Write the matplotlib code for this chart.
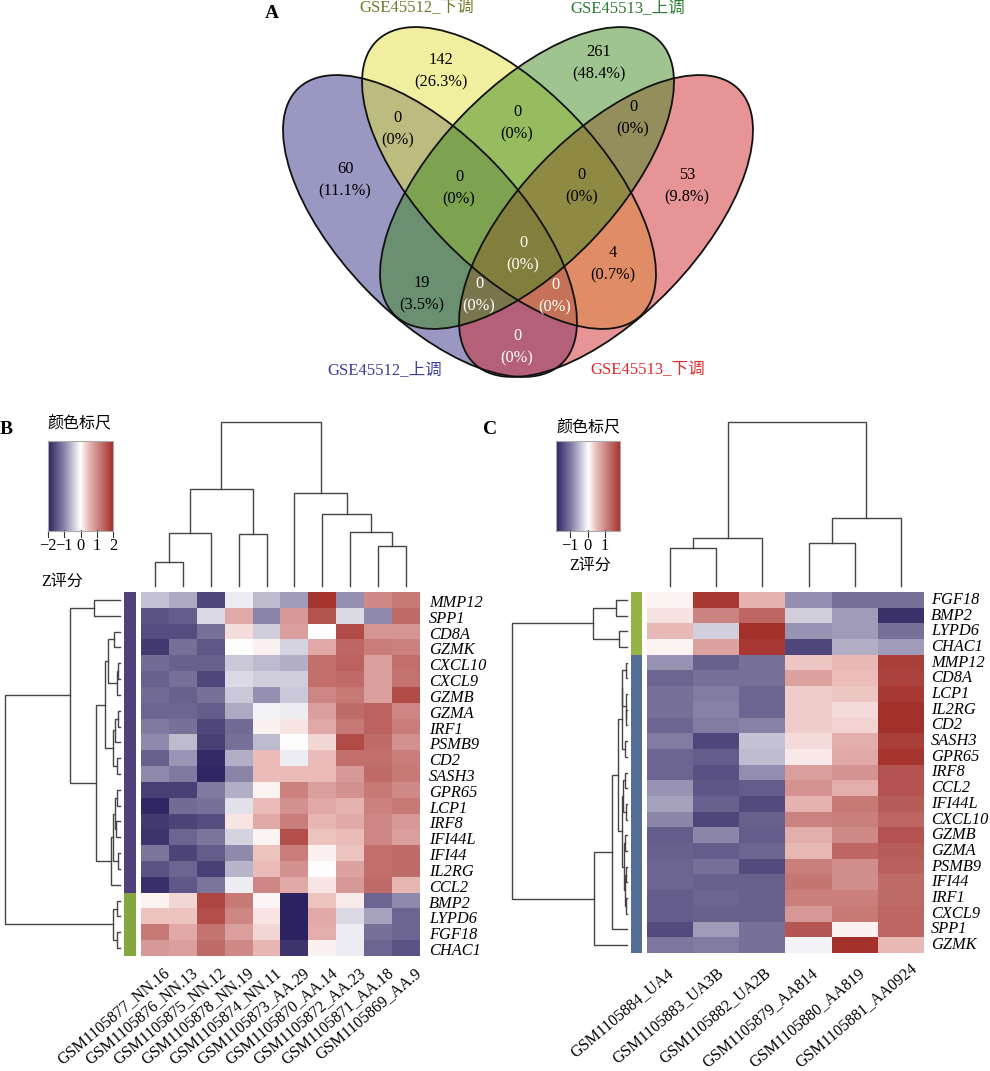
#!/usr/bin/env python3
"""Venn diagram and two clustered heatmaps of the GSE45512 / GSE45513 genes."""

import numpy as np
import matplotlib
matplotlib.use("Agg")
import matplotlib.pyplot as plt
from matplotlib.colors import LinearSegmentedColormap
from matplotlib.patches import Ellipse

plt.rcParams['font.family'] = ['Liberation Serif', 'Noto Sans CJK SC']
plt.rcParams['axes.unicode_minus'] = True

# venn data
venn_titles = ["GSE45512_下调", "GSE45513_上调", "GSE45512_上调", "GSE45513_下调"]
venn_counts = [142, 261, 0, 0, 0, 60, 53, 0, 0, 0, 19, 4, 0, 0, 0]
venn_shares = ["26.3", "48.4", "0", "0", "0", "11.1", "9.8", "0", "0", "0",
               "3.5", "0.7", "0", "0", "0"]

# heatmap B
b_samples = ["GSM1105877_NN.16", "GSM1105876_NN.13", "GSM1105875_NN.12",
             "GSM1105878_NN.19", "GSM1105874_NN.11", "GSM1105873_AA.29",
             "GSM1105870_AA.14", "GSM1105872_AA.23", "GSM1105871_AA.18",
             "GSM1105869_AA.9"]
b_genes = ["MMP12", "SPP1", "CD8A", "GZMK", "CXCL10", "CXCL9", "GZMB", "GZMA",
           "IRF1", "PSMB9", "CD2", "SASH3", "GPR65", "LCP1", "IRF8", "IFI44L",
           "IFI44", "IL2RG", "CCL2", "BMP2", "LYPD6", "FGF18", "CHAC1"]
b_values = [
    [-0.5, -0.7, -1.6, -0.15, -0.55, -0.8, 1.95, -0.9, 1.0, 1.2],
    [-1.5, -1.4, -0.3, 0.7, -1.0, 0.85, 1.6, -0.3, -0.95, 1.35],
    [-1.55, -1.55, -1.2, 0.25, -0.4, 0.8, 0.0, 1.7, 0.9, 0.9],
    [-1.75, -1.2, -1.45, 0.0, 0.1, -0.35, 0.7, 1.4, 1.15, 1.1],
    [-1.25, -1.35, -1.35, -0.45, -0.55, -0.65, 1.3, 1.45, 0.8, 1.3],
    [-1.35, -1.2, -1.6, -0.3, -0.4, -0.4, 1.3, 1.35, 0.8, 1.25],
    [-1.25, -1.35, -1.2, -0.45, -0.9, -0.45, 1.05, 1.2, 0.8, 1.7],
    [-1.3, -1.3, -1.4, -0.7, -0.1, -0.15, 0.8, 1.35, 1.45, 1.05],
    [-1.1, -1.2, -1.6, -1.25, 0.1, 0.2, 0.7, 1.2, 1.45, 1.15],
    [-0.95, -0.55, -1.7, -1.2, -0.55, 0.0, 0.3, 1.7, 1.35, 0.95],
    [-1.35, -0.85, -1.9, -0.65, 0.5, -0.15, 0.5, 1.3, 1.3, 1.15],
    [-0.95, -1.1, -1.95, -1.0, 0.5, 0.5, 0.5, 0.85, 1.35, 1.2],
    [-1.7, -1.7, -1.1, -0.65, 0.08, 1.1, 0.8, 0.95, 1.2, 1.0],
    [-1.95, -1.25, -1.2, -0.25, 0.5, 0.95, 0.7, 0.6, 1.1, 1.2],
    [-1.75, -1.65, -1.55, 0.2, 0.7, 1.15, 0.55, 0.7, 1.05, 0.85],
    [-1.8, -1.3, -1.15, -0.35, 0.08, 1.65, 0.45, 0.5, 1.05, 0.8],
    [-1.15, -1.65, -1.4, -0.95, 0.45, 1.15, 0.1, 0.45, 1.3, 1.35],
    [-1.5, -1.3, -1.7, -0.6, 0.5, 0.95, 0.0, 0.75, 1.3, 1.35],
    [-1.85, -1.45, -1.15, -0.15, 1.05, 0.7, 0.2, 0.85, 1.35, 0.55],
    [0.08, 0.3, 1.75, 1.2, 0.07, -2.0, 0.45, 0.15, -1.3, -0.95],
    [0.45, 0.45, 1.65, 1.05, 0.2, -2.0, 0.7, -0.3, -0.75, -1.3],
    [1.2, 0.7, 1.25, 0.8, 0.3, -2.0, 0.65, -0.15, -1.2, -1.3],
    [0.85, 0.8, 1.35, 1.0, 0.55, -1.8, 0.1, -0.15, -1.3, -1.5],
]
# trees are (left, right, height), leaves are indexes
b_col_tree = ((((0, 1, 24), 2, 53), (3, 4, 52), 97),
              (5, (6, (7, (8, 9, 40), 54), 72), 93), 164)
b_row_tree = (((0, 1, 26),
               ((((2, 3, 6), ((4, 5, 2.5), 6, 3.5), 12),
                 (((7, 8, 2), 9, 5), (10, 11, 3.5), 7.3), 15),
                ((((12, 13, 2.7), (14, 15, 4), 5), (16, 17, 2), 7.3), 18, 9.3),
                24), 50.5),
              (((19, 20, 2.7), (21, 22, 2.7), 7.3)), 115)

# heatmap C
c_samples = ["GSM1105884_UA4", "GSM1105883_UA3B", "GSM1105882_UA2B",
             "GSM1105879_AA814", "GSM1105880_AA819", "GSM1105881_AA0924"]
c_genes = ["FGF18", "BMP2", "LYPD6", "CHAC1", "MMP12", "CD8A", "LCP1", "IL2RG",
           "CD2", "SASH3", "GPR65", "IRF8", "CCL2", "IFI44L", "CXCL10", "GZMB",
           "GZMA", "PSMB9", "IFI44", "IRF1", "CXCL9", "SPP1", "GZMK"]
c_values = [
    [0.08, 1.75, 0.55, -0.85, -1.1, -1.1],
    [0.2, 1.0, 1.3, -0.35, -0.75, -1.7],
    [0.5, -0.35, 1.85, -0.8, -0.75, -1.1],
    [0.08, 0.7, 1.75, -1.5, -0.6, -0.75],
    [-0.8, -1.25, -1.1, 0.4, 0.5, 1.7],
    [-1.2, -1.1, -1.1, 0.7, 0.45, 1.65],
    [-1.1, -1.0, -1.2, 0.35, 0.4, 1.75],
    [-1.1, -0.95, -1.2, 0.35, 0.25, 1.85],
    [-1.2, -1.0, -0.95, 0.35, 0.3, 1.85],
    [-1.0, -1.5, -0.45, 0.25, 0.6, 1.7],
    [-1.2, -1.3, -0.5, 0.15, 0.65, 1.8],
    [-1.2, -1.4, -0.85, 0.75, 0.85, 1.5],
    [-0.8, -1.35, -1.3, 0.85, 0.6, 1.5],
    [-0.7, -1.25, -1.45, 0.55, 1.1, 1.4],
    [-0.9, -1.5, -1.25, 1.0, 1.05, 1.3],
    [-1.3, -0.9, -1.3, 0.6, 0.95, 1.5],
    [-1.25, -1.3, -1.2, 0.5, 1.3, 1.4],
    [-1.2, -1.1, -1.45, 1.05, 0.9, 1.35],
    [-1.2, -1.25, -1.25, 1.15, 0.9, 1.25],
    [-1.3, -1.2, -1.25, 1.05, 1.05, 1.25],
    [-1.3, -1.25, -1.25, 0.8, 1.1, 1.3],
    [-1.45, -0.75, -1.1, 1.45, 0.1, 1.3],
    [-1.05, -1.0, -1.1, -0.1, 1.85, 0.5],
]
c_col_tree = ((((0, 1, 38), 2, 48)), (((3, 4, 43), 5, 68)), 164)
c_row_tree = ((((0, 1, 11), (2, 3, 8), 34)),
              (((((((4, 5, 1.3), (6, (7, 8, 1), 1.3), 4.7), (9, 10, 2), 4.7),
                 (((11, 12, 2), (13, 14, 1.5), 3.7),
                  ((15, 16, 2.3), ((17, 18, 1), (19, 20, 1), 2), 3.5), 5), 9.3),
                21, 15), 22, 33)), 115)

cmap = LinearSegmentedColormap.from_list(
    "zscore", [(0, "#2c2260"), (0.25, "#8a84a8"), (0.5, "#ffffff"),
               (0.625, "#ebbcb9"), (0.75, "#d08c8a"), (1, "#a3302a")])


def draw_tree(ax, node, leaf_pos, base, vertical):
    """Draws a tree node by node, returns the centre and the height of it."""
    if not isinstance(node, tuple):
        return leaf_pos(node), 0
    left, lh = draw_tree(ax, node[0], leaf_pos, base, vertical)
    right, rh = draw_tree(ax, node[1], leaf_pos, base, vertical)
    h = node[2]
    along = [left, left, right, right]
    across = [base - lh, base - h, base - h, base - rh]
    if vertical:
        ax.plot(along, across, color="#444444", lw=1.0, solid_joinstyle="miter")
    else:
        ax.plot(across, along, color="#444444", lw=1.0, solid_joinstyle="miter")
    return (left + right) / 2, h


def draw_heatmap(ax, values, box, vmax, samples, genes, col_tree, row_tree,
                 bar_box, split, bar_colors, tree_base, gene_x, gene_dy, label_dx):
    x0, x1, y0, y1 = box
    ax.imshow(np.array(values), cmap=cmap, vmin=-vmax, vmax=vmax, aspect="auto",
              extent=(x0, x1, y1, y0), interpolation="nearest", zorder=2)
    n_rows = len(genes)
    n_cols = len(samples)
    cell_w = (x1 - x0) / n_cols
    cell_h = (y1 - y0) / n_rows

    def col_pos(i):
        return x0 + cell_w * (i + 0.5)

    def row_pos(i):
        return y0 + cell_h * (i + 0.5)

    draw_tree(ax, col_tree, col_pos, 586, True)
    draw_tree(ax, row_tree, row_pos, tree_base, False)

    split_y = y0 + cell_h * split
    ax.fill_between(bar_box, y0, split_y, color=bar_colors[0], lw=0)
    ax.fill_between(bar_box, split_y, y1, color=bar_colors[1], lw=0)

    for i, gene in enumerate(genes):
        ax.text(gene_x, row_pos(i) + gene_dy, gene, style="italic", fontsize=11.8,
                va="center", ha="left")
    for i, sample in enumerate(samples):
        dx, dy = label_dx[i]
        ax.text(col_pos(i) + dx, 971 + dy, sample, rotation=40, fontsize=11.5,
                ha="right", va="center", rotation_mode="anchor")


def draw_scale(ax, box, vmax, ticks, title_xy, z_xy, label_y):
    x0, x1, y0, y1 = box
    grad = np.linspace(-vmax, vmax, 256).reshape(1, -1)
    ax.imshow(grad, cmap=cmap, aspect="auto", vmin=-vmax, vmax=vmax,
              extent=(x0, x1, y1, y0), zorder=2)
    ax.plot([x0, x1, x1, x0, x0], [y0, y0, y1, y1, y0], color="#aaaaaa", lw=0.8,
            zorder=3)
    for t in ticks:
        tx = x0 + (t + vmax) / (2 * vmax) * (x1 - x0)
        ax.plot([tx, tx], [y1 - 1, y1 + 6], color="#333333", lw=0.8)
        ax.text(tx, label_y, str(t).replace("-", "\u2212"), fontsize=11.8,
                ha="center", va="center")
    ax.text(title_xy[0], title_xy[1], "颜色标尺", fontsize=11.5, ha="center",
            va="center")
    ax.text(z_xy[0], z_xy[1], "Z评分", fontsize=11.5, ha="center", va="center")


fig = plt.figure(figsize=(9.9, 10.71), dpi=100)
ax = fig.add_axes([0, 0, 1, 1])

# venn part, one ellipse per data set, same shape, only moved and tilted
ellipses = [
    ((430, 226), 46.2, "#333388"),
    ((509, 178), 46.2, "#e0e040"),
    ((606, 226), -46.2, "#d02a30"),
    ((527, 178), -46.2, "#408a20"),
]
for center, angle, color in ellipses:
    ax.add_patch(Ellipse(center, 381, 180, angle=angle, facecolor=color,
                         alpha=0.5, edgecolor="none", zorder=1))
for center, angle, color in ellipses:
    ax.add_patch(Ellipse(center, 381, 180, angle=angle, fill=False,
                         edgecolor="#111111", lw=1.3, zorder=1.5))

venn_xy = [(441, 71), (599, 63), (398, 129), (633, 118), (517, 123),
           (345, 180), (687, 186), (459, 188), (582, 186), (523, 254),
           (422, 294), (613, 264), (479, 295), (555, 296), (517, 347)]
for i, (tx, ty) in enumerate(venn_xy):
    color = "white" if i in (9, 12, 13, 14) else "black"
    ax.text(tx, ty, "%d\n(%s%%)" % (venn_counts[i], venn_shares[i]), fontsize=11.8,
            ha="center", va="center", color=color, linespacing=1.5, zorder=3)

title_colors = ["#77772a", "#2e7a32", "#3c3c98", "#e02a2a"]
title_xy = [(417, 8), (628, 8), (385, 370), (648, 370)]
for name, col, (tx, ty) in zip(venn_titles, title_colors, title_xy):
    ax.text(tx, ty, name, color=col, fontsize=12, ha="center", va="center")

ax.text(272, 14, "A", fontsize=14, fontweight="bold", ha="center", va="center")
ax.text(6, 429, "B", fontsize=14, fontweight="bold", ha="center", va="center")
ax.text(490, 430, "C", fontsize=14, fontweight="bold", ha="center", va="center")

draw_heatmap(ax, b_values, (141, 420, 592, 956), 2, b_samples, b_genes,
             b_col_tree, b_row_tree, (124, 136), 19, ("#51407a", "#84a83f"),
             120, 429, 3, [(13, 0)] * 10)
draw_heatmap(ax, c_values, (647, 924, 592, 953), 1.85, c_samples, c_genes,
             c_col_tree, c_row_tree, (631, 642), 4, ("#96b346", "#556d97"),
             627, 931, 0, [(1, 0), (5, 0), (6, 0), (7, 0), (8, 0), (14, -5)])

draw_scale(ax, (48, 113, 441, 531), 2, [-2, -1, 0, 1, 2], (79, 423), (62, 582), 546)
draw_scale(ax, (555.5, 620, 441, 531), 1.85, [-1, 0, 1], (588, 427), (590, 566), 546)

ax.set_xlim(0, 990)
ax.set_ylim(1071, 0)
ax.axis("off")
fig.savefig("out.png", dpi=100, facecolor="white")
